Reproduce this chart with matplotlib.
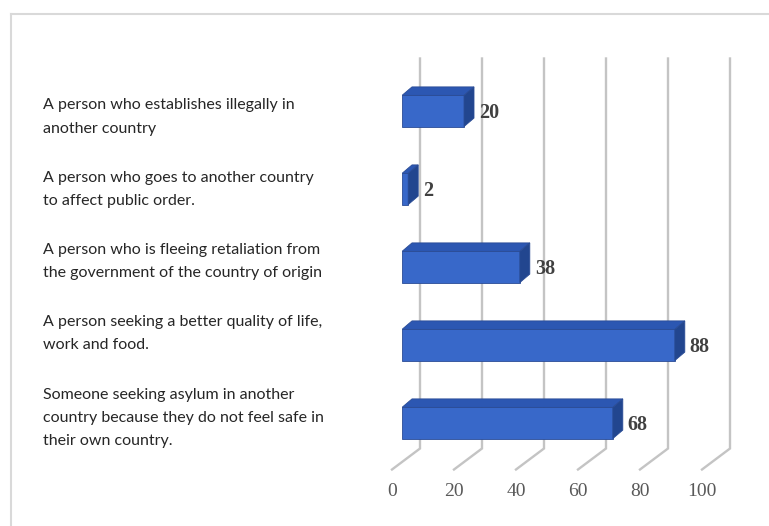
import matplotlib
matplotlib.use("Agg")
import matplotlib.pyplot as plt
from matplotlib.patches import Polygon
from matplotlib.lines import Line2D

# data, top to bottom as in the chart
labels = [
    "A person who establishes illegally in\nanother country",
    "A person who goes to another country\nto affect public order.",
    "A person who is fleeing retaliation from\nthe government of the country of origin",
    "A person seeking a better quality of life,\nwork and food.",
    "Someone seeking asylum in another\ncountry because they do not feel safe in\ntheir own country.",
]
values = [20, 2, 38, 88, 68]
ticks = [0, 20, 40, 60, 80, 100]

W, H = 769, 526
fig = plt.figure(figsize=(W / 100, H / 100), dpi=100)

# axes of the bar front faces
ax_l, ax_b, ax_w, ax_h = 402, 64, 310, 390
ax = fig.add_axes([ax_l / W, ax_b / H, ax_w / W, ax_h / H])
ax.set_xlim(0, 100)
ax.set_ylim(-0.5, 4.5)
ax.axis('off')

kx = 100 / ax_w   # data units per pixel
ky = 5 / ax_h

# back wall gridlines and floor ticks
bx, by = 18 * kx, 13.5 * ky
fx, fy = -10 * kx, -7.5 * ky
for t in ticks:
    ax.plot([t + bx, t + bx, t + fx], [4.5 + by, -0.5 + by, -0.5 + fy],
            color='#c4c4c4', lw=1.7, clip_on=False, zorder=1,
            solid_joinstyle='miter')
    ax.text(t + fx, -0.5 - 30 * ky, str(t), ha='center', va='center',
            fontsize=14, family='Liberation Serif', color='#595959')

# 3d bars
front = '#3868c9'
top = '#2c57b2'
side = '#22468f'
edge = '#2a4c96'
dx, dy = 10 * kx, 8.5 * ky
h = 0.2
ypos = list(range(len(values) - 1, -1, -1))
ax.barh(ypos, values, height=2 * h, color=front, edgecolor=edge,
        linewidth=0.6, zorder=3)
for y, v in zip(ypos, values):
    ax.add_patch(Polygon([(0, y + h), (v, y + h), (v + dx, y + h + dy),
                          (dx, y + h + dy)], closed=True, facecolor=top,
                         edgecolor=edge, lw=0.6, zorder=3))
    ax.add_patch(Polygon([(v, y - h), (v, y + h), (v + dx, y + h + dy),
                          (v + dx, y - h + dy)], closed=True, facecolor=side,
                         edgecolor=edge, lw=0.6, zorder=3))
    ax.text(v + 15 * kx, y - 2 * ky, str(v), ha='left', va='center',
            fontsize=14.5, fontweight='bold', family='Liberation Serif',
            color='#404040', zorder=4)

# category labels
for i, lab in enumerate(labels):
    n = lab.count('\n') + 1
    yc = 105 + 72.3 * i + (n - 1) * 12
    fig.text(43 / W, 1 - yc / H, lab, ha='left', va='center',
             fontsize=11.5, family='Lato', color='#262626', linespacing=1.83)

# chart border
fig.add_artist(Line2D([11 / W, 1], [1 - 14 / H, 1 - 14 / H],
                      color='#d9d9d9', lw=1.5))
fig.add_artist(Line2D([11 / W, 11 / W], [1 - 14 / H, 0],
                      color='#d9d9d9', lw=1.5))

fig.savefig('out.png', dpi=100)
